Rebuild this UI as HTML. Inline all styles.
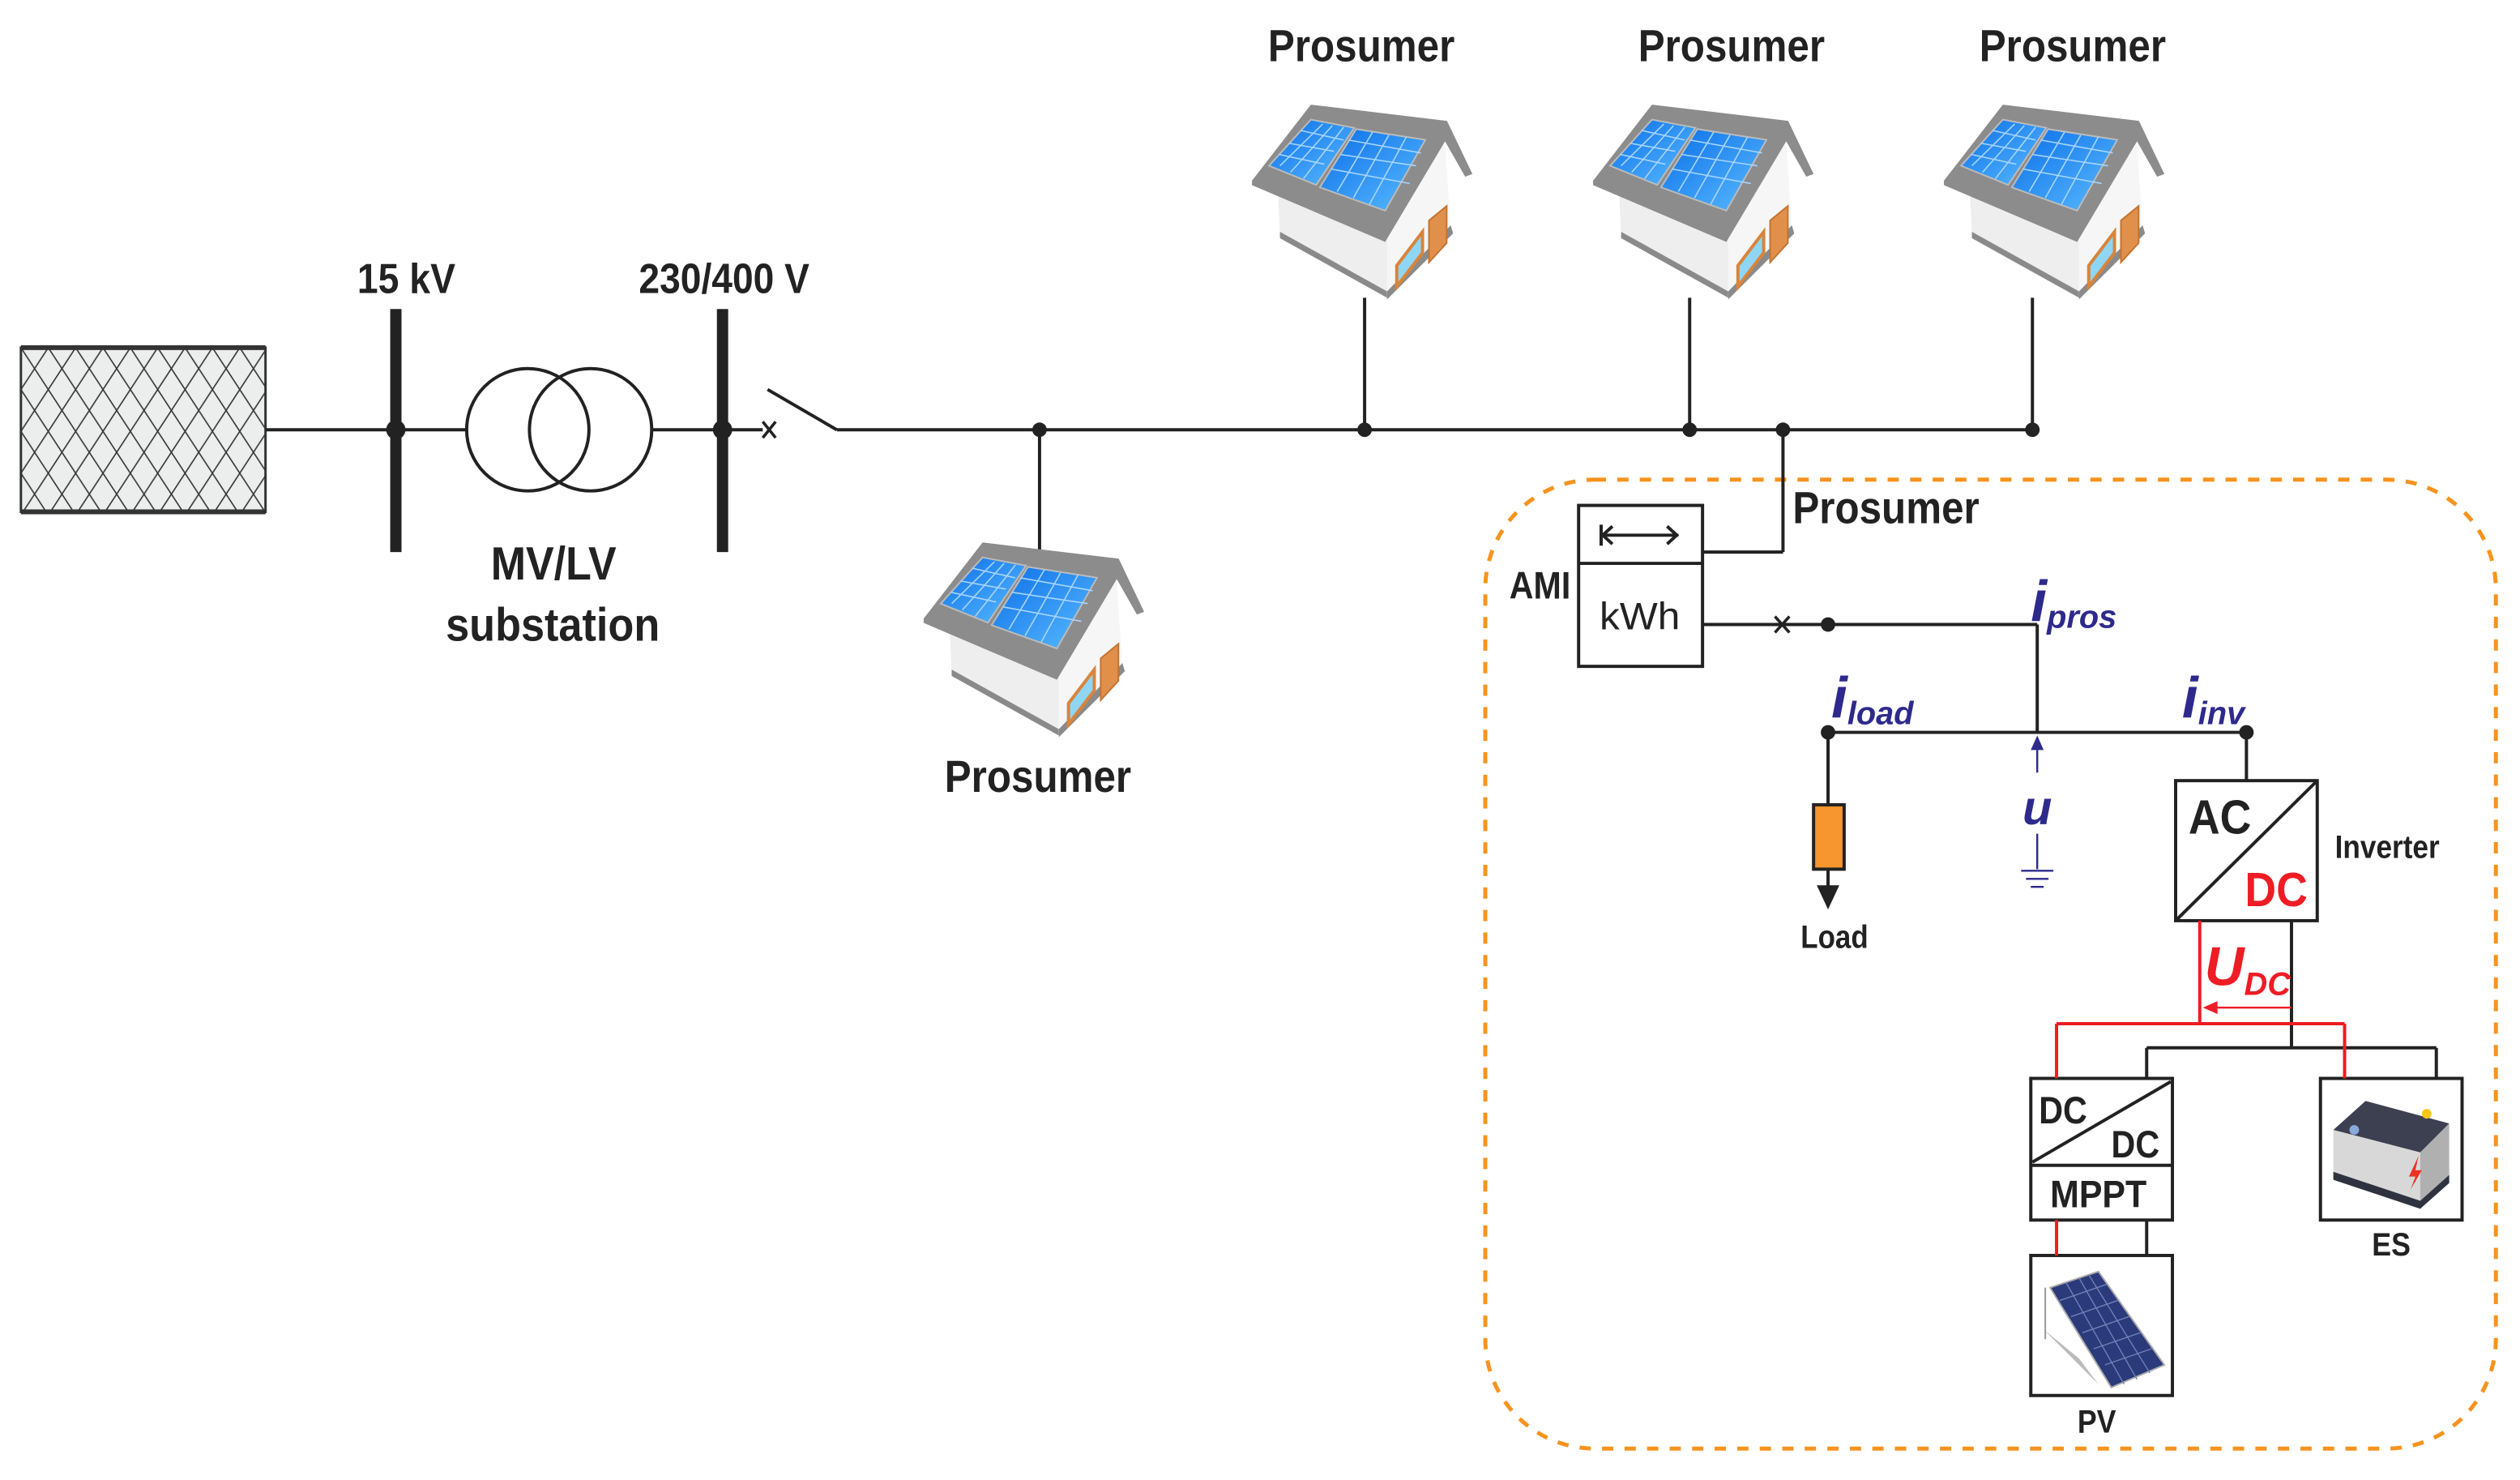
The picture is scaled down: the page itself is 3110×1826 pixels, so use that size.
<!DOCTYPE html>
<html><head><meta charset="utf-8"><style>
html,body{margin:0;padding:0;background:#fff;}
svg{display:block;}
.t{font-family:"Liberation Sans",sans-serif;font-weight:bold;fill:#222;}
.bl{font-family:"Liberation Sans",sans-serif;font-weight:bold;font-style:italic;fill:#2e2a8c;}
</style></head><body>
<svg width="3110" height="1826" viewBox="0 0 1566 919.5" preserveAspectRatio="none" xmlns="http://www.w3.org/2000/svg">
<defs>
<pattern id="hatch" width="17" height="26" patternUnits="userSpaceOnUse" x="13" y="216">
<path d="M0,0 L17,26 M17,0 L0,26" stroke="#333" stroke-width="0.8" fill="none"/>
</pattern>
<linearGradient id="pv" x1="0" y1="0" x2="1" y2="1">
<stop offset="0" stop-color="#0a6ee8"/><stop offset="1" stop-color="#5bbcff"/>
</linearGradient>
<g id="house">
<polygon points="16.3,56.6 84,83.7 84,120 17.4,81.1" fill="#eeeeee"/>
<polygon points="17.4,79 84,116 84,120 17.4,83" fill="#8a8a8a"/>
<polygon points="84,83.7 120,22.8 123.5,78.6 84,120" fill="#f6f6f6"/>
<polygon points="84,116 123.5,75 125,80 84,121" fill="#8a8a8a"/>
<polygon points="0,47.3 36.6,0 121.2,10.1 137,43.1 132.5,44.8 120,22.8 82.8,85.3 0,50" fill="#8c8c8c"/>
<polygon points="10.6,38 36.6,9.3 63.6,14.4 39.9,49.9" fill="url(#pv)" stroke="#bbb" stroke-width="1"/>
<polygon points="42.2,51.4 64.8,15.2 107.7,21.9 82.8,65.9" fill="url(#pv)" stroke="#bbb" stroke-width="1"/>
<path d="M17,31 L45,37 M23,24 L51,29 M30,16 L57,22 M17.4,38 L44,12 M24,42 L50,13 M32,46 L57,14 M49,40 L98,49 M55,31 L102,38 M60,22 L105,30 M53,54 L75,17 M63,58 L85,19 M73,62 L96,20" stroke="#a8d4ff" stroke-width="0.8" fill="none"/>
<polygon points="90,100 106,79 106,92 90,113" fill="#8fd6f5" stroke="#d9843a" stroke-width="2"/>
<polygon points="110,72 121,63 121,86 110,98" fill="#e0904a" stroke="#c47430" stroke-width="1"/>
</g>
</defs>

<rect x="13" y="216" width="152" height="102" fill="#eceeee"/>
<rect x="13" y="216" width="152" height="102" fill="url(#hatch)"/>
<rect x="13" y="216" width="152" height="102" fill="none" stroke="#333" stroke-width="1.5"/>
<line x1="13" y1="216" x2="165" y2="216" stroke="#333" stroke-width="3"/>
<line x1="13" y1="318" x2="165" y2="318" stroke="#333" stroke-width="3"/>

<g stroke="#222" stroke-width="2" fill="none">
<line x1="165" y1="267" x2="290" y2="267"/>
<line x1="405" y1="267" x2="474" y2="267"/>
<line x1="477" y1="242" x2="520" y2="267"/>
<line x1="520" y1="267" x2="1265" y2="267"/>
<circle cx="328" cy="267" r="38"/>
<circle cx="367" cy="267" r="38"/>
<path d="M474,262 l8,10 M482,262 l-8,10" stroke-width="1.8"/>
<line x1="646" y1="267" x2="646" y2="342"/>
<line x1="848" y1="185" x2="848" y2="267"/>
<line x1="1050" y1="185" x2="1050" y2="267"/>
<line x1="1263" y1="185" x2="1263" y2="267"/>
</g>
<rect x="242.5" y="192" width="7" height="151" fill="#222"/>
<rect x="445.5" y="192" width="7" height="151" fill="#222"/>
<g fill="#222">
<circle cx="246" cy="267" r="6"/><circle cx="449" cy="267" r="6"/>
<circle cx="646" cy="267" r="4.5"/><circle cx="848" cy="267" r="4.5"/>
<circle cx="1050" cy="267" r="4.5"/><circle cx="1108" cy="267" r="4.5"/>
<circle cx="1263" cy="267" r="4.5"/>
</g>

<text class="t" x="222" y="182" font-size="26" textLength="61" lengthAdjust="spacingAndGlyphs">15 kV</text>
<text class="t" x="397" y="182" font-size="26" textLength="106" lengthAdjust="spacingAndGlyphs">230/400 V</text>
<text class="t" x="305" y="360" font-size="29" textLength="78" lengthAdjust="spacingAndGlyphs">MV/LV</text>
<text class="t" x="277" y="398" font-size="29" textLength="133" lengthAdjust="spacingAndGlyphs">substation</text>

<use href="#house" x="778" y="65"/>
<use href="#house" x="990" y="65"/>
<use href="#house" x="1208" y="65"/>
<use href="#house" x="574" y="337"/>
<text class="t" x="788" y="38" font-size="28" textLength="116" lengthAdjust="spacingAndGlyphs">Prosumer</text>
<text class="t" x="1018" y="38" font-size="28" textLength="116" lengthAdjust="spacingAndGlyphs">Prosumer</text>
<text class="t" x="1230" y="38" font-size="28" textLength="116" lengthAdjust="spacingAndGlyphs">Prosumer</text>
<text class="t" x="587" y="492" font-size="28" textLength="116" lengthAdjust="spacingAndGlyphs">Prosumer</text>

<rect x="923" y="298" width="628" height="602" rx="68" ry="68" fill="none" stroke="#f7931e" stroke-width="2.5" stroke-dasharray="7,7"/>

<text class="t" x="1114" y="325" font-size="28" textLength="116" lengthAdjust="spacingAndGlyphs">Prosumer</text>

<g stroke="#222" stroke-width="2" fill="none">
<line x1="1108" y1="267" x2="1108" y2="343"/>
<line x1="1108" y1="343" x2="1058" y2="343"/>
<rect x="981" y="314" width="77" height="100"/>
<line x1="981" y1="350" x2="1058" y2="350"/>
<path d="M995,326 v13 M995,332.5 h48 M1002,327 l-6,5.5 l6,5.5 M1036,327 l6,5.5 l-6,5.5"/>
<line x1="1058" y1="388" x2="1266" y2="388"/>
<path d="M1103,383 l9,10 M1112,383 l-9,10" stroke-width="1.8"/>
<line x1="1266" y1="388" x2="1266" y2="455"/>
<line x1="1136" y1="455" x2="1396" y2="455"/>
<line x1="1136" y1="455" x2="1136" y2="500"/>
<line x1="1136" y1="540" x2="1136" y2="552"/>
<line x1="1396" y1="455" x2="1396" y2="485"/>
<rect x="1352" y="485" width="88" height="87"/>
<line x1="1353" y1="571" x2="1439" y2="486"/>
<line x1="1424" y1="572" x2="1424" y2="651"/>
<line x1="1334" y1="651" x2="1514" y2="651"/>
<line x1="1334" y1="651" x2="1334" y2="670"/>
<line x1="1514" y1="651" x2="1514" y2="670"/>
<rect x="1262" y="670" width="88" height="88"/>
<line x1="1262" y1="724" x2="1350" y2="724"/>
<line x1="1263" y1="722" x2="1349" y2="672"/>
<line x1="1334" y1="758" x2="1334" y2="780"/>
<rect x="1262" y="780" width="88" height="87"/>
<rect x="1442" y="670" width="88" height="88"/>
</g>
<text x="938" y="372" font-size="24" class="t" textLength="38" lengthAdjust="spacingAndGlyphs">AMI</text>
<text x="994" y="391" font-size="24" font-family="Liberation Sans, sans-serif" fill="#222" textLength="50" lengthAdjust="spacingAndGlyphs">kWh</text>
<circle cx="1136" cy="388" r="4.5" fill="#222"/>
<circle cx="1136" cy="455" r="4.5" fill="#222"/>
<circle cx="1396" cy="455" r="4.5" fill="#222"/>

<text class="bl" x="1262" y="386" font-size="36">i<tspan font-size="20" dy="4">pros</tspan></text>
<text class="bl" x="1138" y="446" font-size="36">i<tspan font-size="20" dy="4">load</tspan></text>
<text class="bl" x="1356" y="446" font-size="36">i<tspan font-size="20" dy="4">inv</tspan></text>

<rect x="1127" y="500" width="19" height="40" fill="#f7962e" stroke="#222" stroke-width="2"/>
<polygon points="1129,550 1143,550 1136,565" fill="#222"/>
<text class="t" x="1119" y="589" font-size="20" textLength="42" lengthAdjust="spacingAndGlyphs">Load</text>

<g stroke="#2e2a8c" stroke-width="1.2" fill="none">
<line x1="1266" y1="480" x2="1266" y2="462"/>
<line x1="1266" y1="518" x2="1266" y2="540"/>
<line x1="1256" y1="541" x2="1276" y2="541"/>
<line x1="1259" y1="546" x2="1273" y2="546"/>
<line x1="1262" y1="551" x2="1270" y2="551"/>
</g>
<polygon points="1262,466 1270,466 1266,457" fill="#2e2a8c"/>
<text class="bl" x="1266" y="512" font-size="30" text-anchor="middle">u</text>

<text class="t" x="1360" y="518" font-size="30" textLength="39" lengthAdjust="spacingAndGlyphs">AC</text>
<text class="t" x="1395" y="563" font-size="30" textLength="39" lengthAdjust="spacingAndGlyphs" style="fill:#ee1c25">DC</text>
<text class="t" x="1451" y="533" font-size="20" textLength="65" lengthAdjust="spacingAndGlyphs">Inverter</text>

<g stroke="#ee1c25" stroke-width="2" fill="none">
<line x1="1367" y1="572" x2="1367" y2="636"/>
<line x1="1278" y1="636" x2="1457" y2="636"/>
<line x1="1278" y1="636" x2="1278" y2="670"/>
<line x1="1457" y1="636" x2="1457" y2="670"/>
<line x1="1278" y1="758" x2="1278" y2="780"/>
<line x1="1424" y1="626" x2="1375" y2="626" stroke-width="1.2"/>
</g>
<polygon points="1369,626 1378,622 1378,630" fill="#ee1c25"/>
<text class="bl" x="1370" y="612" font-size="34" style="fill:#ee1c25">U<tspan font-size="20" dy="6">DC</tspan></text>

<text class="t" x="1267" y="698" font-size="24" textLength="30" lengthAdjust="spacingAndGlyphs">DC</text>
<text class="t" x="1312" y="719" font-size="24" textLength="30" lengthAdjust="spacingAndGlyphs">DC</text>
<text class="t" x="1274" y="750" font-size="24" textLength="60" lengthAdjust="spacingAndGlyphs">MPPT</text>
<text class="t" x="1291" y="890" font-size="20" textLength="24" lengthAdjust="spacingAndGlyphs">PV</text>
<text class="t" x="1474" y="780" font-size="20" textLength="24" lengthAdjust="spacingAndGlyphs">ES</text>

<polygon points="1270,826 1292,844 1304,860 1278,834" fill="#bbb"/>
<line x1="1271" y1="800" x2="1271" y2="832" stroke="#999" stroke-width="1"/>
<polygon points="1274,800 1304,790 1345,848 1312,862" fill="#2a3a7a" stroke="#aaa" stroke-width="1"/>
<path d="M1284,797 L1320,860 M1292,794 L1328,857 M1298,792 L1336,853 M1280,808 L1309,798 M1287,818 L1316,808 M1294,828 L1323,818 M1301,838 L1330,828 M1308,848 L1337,838" stroke="#7080b8" stroke-width="0.7" fill="none"/>

<polygon points="1450,702 1470,684 1522,698 1504,716" fill="#3c4050"/>
<polygon points="1450,702 1504,716 1504,746 1450,728" fill="#d8d8d8"/>
<polygon points="1504,716 1522,698 1522,730 1504,746" fill="#b0b0b0"/>
<polygon points="1450,728 1504,746 1522,730 1522,735 1504,751 1450,733" fill="#2f3340"/>
<circle cx="1463" cy="702" r="3" fill="#8ad"/>
<circle cx="1508" cy="692" r="3" fill="#f5c518"/>
<polygon points="1503,718 1497,731 1501,731 1498,739 1505,727 1501,727" fill="#ee3124"/>
</svg>
</body></html>
